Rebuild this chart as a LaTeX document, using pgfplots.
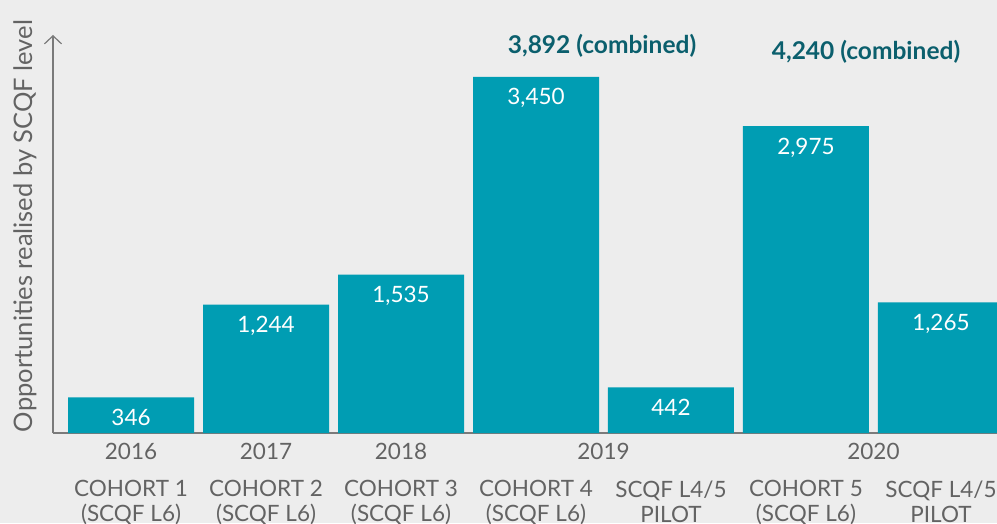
\documentclass[border=0pt]{standalone}
\usepackage{pgfplots}
\pgfplotsset{compat=1.18}
\usepackage{pgfplotstable}
\usepackage{fontspec}
\setmainfont{Lato}
\usetikzlibrary{arrows.meta}
\definecolor{bg}{HTML}{EDEDED}
\definecolor{barc}{HTML}{009DB3}
\definecolor{txt}{HTML}{636363}
\definecolor{dark}{HTML}{0B5F6D}
\definecolor{axisc}{HTML}{7A7A7A}

\pgfplotstableread{
x y lab
0 346 346
1 1244 1,244
2 1535 1,535
3 3450 3,450
4 442 442
5 2975 2,975
6 1265 1,265
}\data

\begin{document}
\begin{tikzpicture}[x=1pt,y=1pt]
\fill[bg] (0,0) rectangle (997,523);
\useasboundingbox (0,0) rectangle (997,523);
\begin{axis}[
  at={(53pt,90pt)}, anchor=south west,
  scale only axis, width=944pt, height=398pt,
  xmin=-0.578, xmax=6.415, ymin=0, ymax=3857,
  axis x line=bottom, axis y line=left,
  x axis line style={-, line width=1.5pt, color=axisc},
  y axis line style={-{Straight Barb[length=8pt,width=17pt,line width=1.2pt]}, line width=1.2pt, color=axisc},
  ytick=\empty,
  xtick={0,...,6},
  xticklabels={{COHORT 1\\(SCQF L6)},{COHORT 2\\(SCQF L6)},{COHORT 3\\(SCQF L6)},{COHORT 4\\(SCQF L6)},{SCQF L4/5\\PILOT},{COHORT 5\\(SCQF L6)},{SCQF L4/5\\PILOT}},
  major tick style={draw=none},
  xticklabel style={align=center, text=txt, font=\fontsize{22.5}{25}\selectfont, inner sep=0pt, yshift=-43pt},
  extra x ticks={0,1,2,3.5,5.5},
  extra x tick labels={2016,2017,2018,2019,2020},
  extra x tick style={tick style={draw=none}, tick label style={yshift=37pt}},
  ybar, bar width=126pt,
  nodes near coords, point meta=explicit symbolic,
  every node near coord/.append style={anchor=north, inner sep=0pt, yshift=-11.5pt, text=white, font=\fontsize{22.5}{25}\selectfont},
]
\addplot[fill=barc, draw=none] table[x=x, y=y, meta=lab] {\data};
\end{axis}
\node[font=\fontsize{24.5}{27}\selectfont\bfseries, text=dark] at (602,477) {3,892 (combined)};
\node[font=\fontsize{24.5}{27}\selectfont\bfseries, text=dark] at (866,471) {4,240 (combined)};
\node[rotate=90, font=\fontsize{25.5}{27}\selectfont, text=txt] at (25,297) {Opportunities realised by SCQF level};
\end{tikzpicture}
\end{document}
